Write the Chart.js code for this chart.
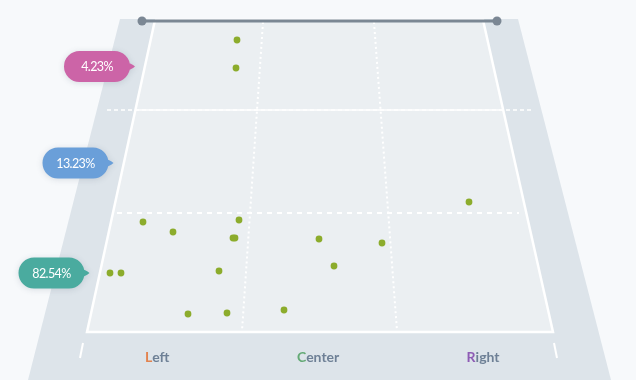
<!DOCTYPE html>
<html>
<head>
<meta charset="utf-8">
<script src="https://cdn.jsdelivr.net/npm/chart.js@4.4.1/dist/chart.umd.min.js"></script>
<style>
html,body{margin:0;padding:0;background:#f7f9fb;}
#wrap{width:636px;height:380px;position:relative;}
canvas{display:block;}
</style>
</head>
<body>
<div id="wrap"><canvas id="c" width="636" height="380"></canvas></div>
<script>
// ---- data ----
const zoneLabels = ['Left', 'Center', 'Right'];
const depthShares = ['4.23%', '13.23%', '82.54%'];
const shotX = [237, 236, 143, 173, 239, 233, 235, 110, 121, 219, 188, 227, 284, 319, 334, 382, 469];
const shotY = [40, 68, 222, 232, 220, 238, 238, 273, 273, 271, 314, 313, 310, 239, 266, 243, 202];

// ---- styles ----
const zoneLetterColors = ['#e2834f', '#64aa76', '#8e5cb5'];
const shareColors = ['#cc64a7', '#6a9fd9', '#4aab9f'];
const labelColor = '#6e8096';
const shotColor = '#8cac2c';

// ---- layout (court geometry in scale units) ----
const GEO = {
  outer: [[120,19],[518,19],[611,380],[28,380],[120,19]],
  court: [[155,20],[483,20],[553,332],[87,332],[155,20]],
  attackDash: [[107,110],[533,110]],
  attackLine: [[135,110],[503,110]],
  backDash: [[117,213],[519,213]],
  leftDots: [[263,22],[242,331]],
  rightDots: [[374,22],[397,331]],
  tickL: [[83,343],[80,358]],
  tickR: [[554,343],[557,358]],
  net: [[142,21],[497,21]],
  zoneLabelPos: [[157,357],[318,357],[483,357]],
  bubblePos: [[97,66.5],[75.5,163],[51.5,273]],
  bubbleSize: [66, 31]
};

const pts = a => a.map(([x,y]) => ({x, y}));
function lineDs(arr, opts) {
  return Object.assign({
    type: 'line', data: pts(arr), borderColor: '#ffffff', borderWidth: 2,
    pointRadius: 0, pointHoverRadius: 0, fill: false, tension: 0, borderCapStyle: 'butt'
  }, opts);
}

const overlay = {
  id: 'overlay',
  afterDatasetsDraw(chart) {
    const ctx = chart.ctx, sx = chart.scales.x, sy = chart.scales.y;
    // zone labels
    ctx.save();
    ctx.font = 'bold 14px Lato';
    ctx.textBaseline = 'middle';
    ctx.textAlign = 'left';
    zoneLabels.forEach((lab, i) => {
      const [vx, vy] = GEO.zoneLabelPos[i];
      const px = sx.getPixelForValue(vx), py = sy.getPixelForValue(vy);
      const w = ctx.measureText(lab).width;
      const first = lab[0], rest = lab.slice(1);
      const fw = ctx.measureText(first).width;
      let x = px - w / 2;
      ctx.fillStyle = zoneLetterColors[i];
      ctx.fillText(first, x, py);
      ctx.fillStyle = labelColor;
      ctx.fillText(rest, x + fw, py);
    });
    ctx.restore();
    // share bubbles
    depthShares.forEach((txt, i) => {
      const [vx, vy] = GEO.bubblePos[i];
      const cx = sx.getPixelForValue(vx), cy = sy.getPixelForValue(vy);
      const [w, h] = GEO.bubbleSize;
      const x0 = cx - w / 2, y0 = cy - h / 2;
      ctx.save();
      ctx.shadowColor = 'rgba(70,90,110,0.18)';
      ctx.shadowBlur = 6;
      ctx.shadowOffsetY = 1;
      ctx.fillStyle = shareColors[i];
      ctx.beginPath();
      ctx.roundRect(x0, y0, w, h, h / 2);
      ctx.moveTo(x0 + w - 8, cy - 6);
      ctx.quadraticCurveTo(x0 + w + 2, cy - 3, x0 + w + 5, cy);
      ctx.quadraticCurveTo(x0 + w + 2, cy + 3, x0 + w - 8, cy + 6);
      ctx.closePath();
      ctx.fill();
      ctx.restore();
      ctx.save();
      ctx.fillStyle = '#ffffff';
      ctx.font = '12.5px Lato';
      try { ctx.letterSpacing = '-0.6px'; } catch (e) {}
      ctx.textAlign = 'center';
      ctx.textBaseline = 'middle';
      ctx.fillText(txt, cx, cy + 0.5);
      ctx.restore();
    });
  }
};

new Chart(document.getElementById('c'), {
  type: 'scatter',
  data: {
    datasets: [
      { type: 'scatter', label: 'Shots', data: shotX.map((x, i) => ({x, y: shotY[i]})),
        backgroundColor: shotColor, borderWidth: 0, pointRadius: 3.4, pointHoverRadius: 3.4, order: 0 },
      lineDs(GEO.net, { borderColor: '#7b8794', borderWidth: 3, pointRadius: 4.5,
        pointBackgroundColor: '#7b8794', pointBorderWidth: 0, order: 1 }),
      lineDs(GEO.tickL, { order: 2 }),
      lineDs(GEO.tickR, { order: 2 }),
      lineDs(GEO.leftDots, { borderDash: [2, 3], order: 3 }),
      lineDs(GEO.rightDots, { borderDash: [2, 3], order: 3 }),
      lineDs(GEO.backDash, { borderDash: [5, 5], borderWidth: 2, order: 4 }),
      lineDs(GEO.attackLine, { borderWidth: 1.5, order: 5 }),
      lineDs(GEO.attackDash, { borderDash: [4, 3], borderWidth: 1.5, order: 6 }),
      lineDs(GEO.court, { fill: 'shape', backgroundColor: '#ebeff2', borderWidth: 2.5, order: 7 }),
      lineDs(GEO.outer, { fill: 'shape', backgroundColor: '#dde4ea', borderWidth: 0, order: 8 })
    ]
  },
  options: {
    responsive: false,
    devicePixelRatio: 1,
    animation: false,
    layout: { padding: 0, autoPadding: false },
    events: [],
    plugins: { legend: { display: false }, tooltip: { enabled: false } },
    scales: {
      x: { type: 'linear', min: 0, max: 636, display: false },
      y: { type: 'linear', min: 0, max: 380, reverse: true, display: false }
    }
  },
  plugins: [overlay]
});
</script>
</body>
</html>
